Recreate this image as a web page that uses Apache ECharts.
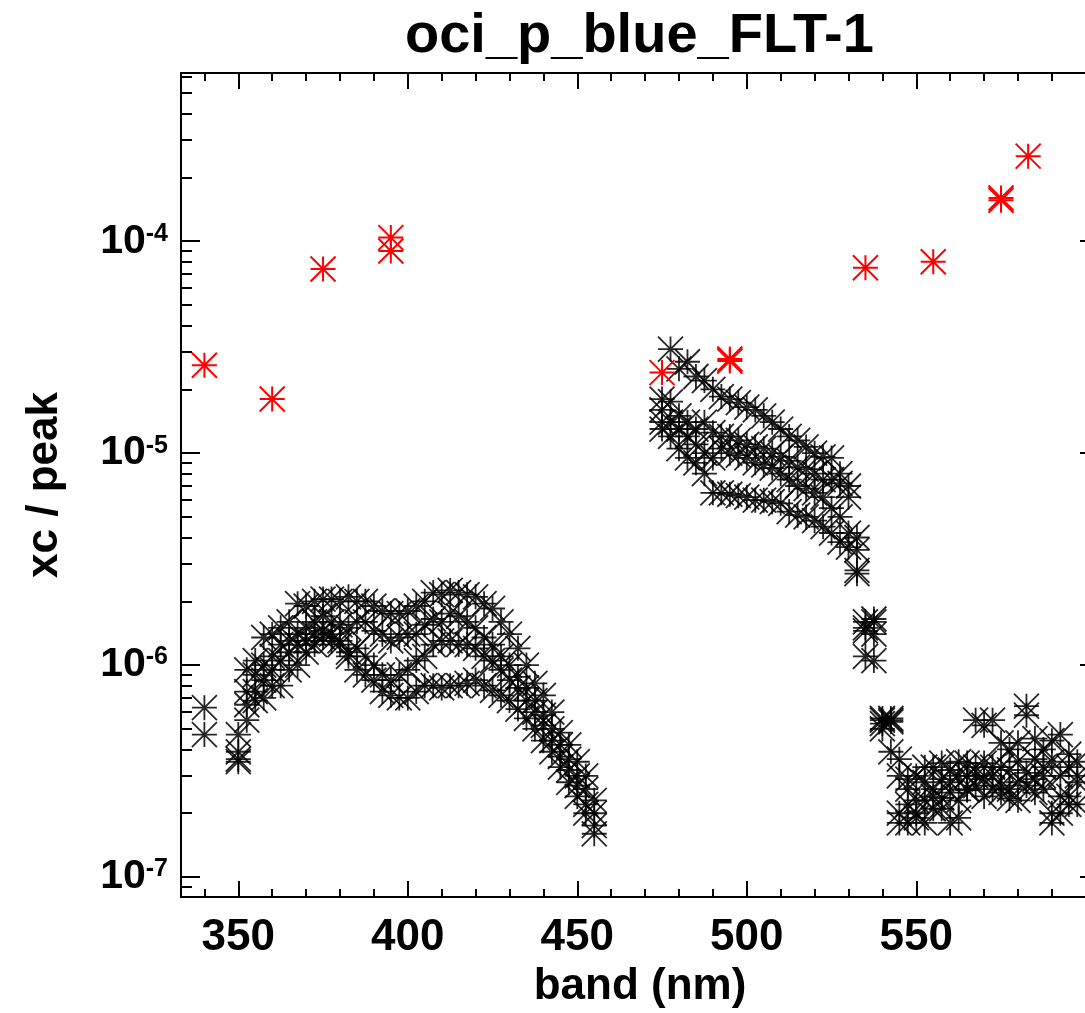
<!DOCTYPE html>
<html>
<head>
<meta charset="utf-8">
<title>oci_p_blue_FLT-1</title>
<script src="https://cdn.jsdelivr.net/npm/echarts@6/dist/echarts.min.js"></script>
<style>
  html, body { margin: 0; padding: 0; background: #fff; }
  #chart { width: 1085px; height: 1013px; }
</style>
</head>
<body>
<div id="chart"></div>
<script>
// band grid of the first group (340 nm, then 350..455 every 2.5 nm)
var bandsA = [340, 350, 352.5, 355, 357.5, 360, 362.5, 365, 367.5, 370, 372.5, 375, 377.5, 380, 382.5,
  385, 387.5, 390, 392.5, 395, 397.5, 400, 402.5, 405, 407.5, 410, 412.5, 415, 417.5, 420, 422.5,
  425, 427.5, 430, 432.5, 435, 437.5, 440, 442.5, 445, 447.5, 450, 452.5, 455];
var xcA1 = [6.3e-7, 4.7e-7, 9.5e-7, 1.05e-6, 1.35e-6, 1.4e-6, 1.5e-6, 1.6e-6, 1.95e-6, 1.9e-6, 2.0e-6,
  2.05e-6, 2.05e-6, 2.0e-6, 2.1e-6, 2.0e-6, 2.0e-6, 1.9e-6, 1.8e-6, 1.75e-6, 1.75e-6, 1.8e-6, 1.9e-6,
  2.0e-6, 2.2e-6, 2.15e-6, 2.25e-6, 2.2e-6, 2.15e-6, 2.1e-6, 1.95e-6, 1.85e-6, 1.6e-6, 1.4e-6, 1.2e-6,
  1.0e-6, 8.2e-7, 7.2e-7, 6.0e-7, 4.8e-7, 4.2e-7, 3.5e-7, 3.0e-7, 2.3e-7];
var xcA2 = [4.7e-7, 3.9e-7, 7.5e-7, 9e-7, 1.0e-6, 1.1e-6, 1.25e-6, 1.3e-6, 1.4e-6, 1.5e-6, 1.6e-6,
  1.7e-6, 1.6e-6, 1.55e-6, 1.5e-6, 1.6e-6, 1.6e-6, 1.45e-6, 1.4e-6, 1.3e-6, 1.35e-6, 1.4e-6, 1.4e-6,
  1.55e-6, 1.65e-6, 1.6e-6, 1.75e-6, 1.7e-6, 1.6e-6, 1.5e-6, 1.35e-6, 1.25e-6, 1.1e-6, 1.0e-6, 8.8e-7,
  7.8e-7, 6.8e-7, 5.8e-7, 5.0e-7, 4.2e-7, 3.6e-7, 3.0e-7, 2.6e-7, 2.0e-7];
var xcA3 = [null, 3.6e-7, 6.5e-7, 7.5e-7, 8.5e-7, 9.5e-7, 1.05e-6, 1.15e-6, 1.25e-6, 1.3e-6, 1.4e-6,
  1.45e-6, 1.4e-6, 1.3e-6, 1.15e-6, 1.2e-6, 1.1e-6, 1.0e-6, 9e-7, 8.5e-7, 9e-7, 9.5e-7, 1.05e-6,
  1.1e-6, 1.25e-6, 1.3e-6, 1.3e-6, 1.25e-6, 1.25e-6, 1.2e-6, 1.1e-6, 1.05e-6, 9.5e-7, 8.5e-7, 7.8e-7,
  6.8e-7, 6e-7, 5.2e-7, 4.4e-7, 3.7e-7, 3.2e-7, 2.7e-7, 2.2e-7, 1.75e-7];
var xcA4 = [null, 3.5e-7, 5.5e-7, 6.8e-7, 7e-7, 8e-7, 8e-7, 9.5e-7, 1.0e-6, 1.15e-6, 1.25e-6,
  1.35e-6, 1.3e-6, 1.25e-6, 1.1e-6, 9.5e-7, 9e-7, 8.5e-7, 7.5e-7, 7.2e-7, 7e-7, 7e-7, 7.5e-7,
  8e-7, 8e-7, 7.8e-7, 8e-7, 8e-7, 8.2e-7, 8.5e-7, 8e-7, 7.6e-7, 7.2e-7, 6.8e-7, 6.2e-7,
  5.6e-7, 5e-7, 4.4e-7, 3.9e-7, 3.3e-7, 2.8e-7, 2.4e-7, 2.0e-7, 1.6e-7];

// second group, 475..597.5 every 2.5 nm
var bandsB = [475, 477.5, 480, 482.5, 485, 487.5, 490, 492.5, 495, 497.5, 500, 502.5, 505, 507.5,
  510, 512.5, 515, 517.5, 520, 522.5, 525, 527.5, 530, 532.5, 535, 537.5, 540, 542.5, 545, 547.5,
  550, 552.5, 555, 557.5, 560, 562.5, 565, 567.5, 570, 572.5, 575, 577.5, 580, 582.5, 585, 587.5,
  590, 592.5, 595, 597.5];
var xcB1 = [1.8e-5, 3.1e-5, 2.5e-5, 2.7e-5, 2.3e-5, 2.2e-5, 2.0e-5, 1.85e-5, 1.8e-5, 1.73e-5,
  1.65e-5, 1.6e-5, 1.5e-5, 1.4e-5, 1.3e-5, 1.2e-5, 1.15e-5, 1.07e-5, 1.0e-5, 9.6e-6,
  9.5e-6, 8e-6, 7e-6, 4.0e-6, 1.6e-6, 1.65e-6, 5.6e-7, 5.5e-7, 3.6e-7, 2.9e-7,
  3.0e-7, 3.3e-7, 3.3e-7, 3.45e-7, 3.2e-7, 3.5e-7, 3.45e-7, 5.5e-7, 5.2e-7, 5.5e-7,
  4.3e-7, 4.0e-7, 4.3e-7, 6.4e-7, 4.5e-7, 4.0e-7, 4.4e-7, 4.7e-7, 3.8e-7, 3.5e-7];
var xcB2 = [1.4e-5, 1.75e-5, 1.5e-5, 1.4e-5, 1.3e-5, 1.4e-5, 1.25e-5, 1.2e-5, 1.2e-5, 1.15e-5,
  1.1e-5, 1.07e-5, 1.05e-5, 1.0e-5, 9.6e-6, 9.2e-6, 8.6e-6, 8.4e-6, 8e-6, 7.5e-6,
  7.5e-6, 7.2e-6, 6.2e-6, 3.5e-6, 1.45e-6, 1.4e-6, 5.3e-7, 5.4e-7, 3.0e-7, 2.6e-7,
  2.3e-7, 2.8e-7, 2.6e-7, 2.9e-7, 2.8e-7, 3.0e-7, 3.0e-7, 3.3e-7, 3.45e-7, 3.3e-7,
  3.3e-7, 3.2e-7, 3.5e-7, 5.8e-7, 3.6e-7, 3.3e-7, 3.5e-7, 3.0e-7, 3.3e-7, 2.8e-7];
var xcB3 = [1.3e-5, 1.4e-5, 1.3e-5, 1.2e-5, 1.1e-5, 1.0e-5, 9.5e-6, 1.05e-5, 1.0e-5, 9.8e-6,
  9.5e-6, 9e-6, 8.8e-6, 8.5e-6, 8.0e-6, 7.5e-6, 7e-6, 6.8e-6, 6.5e-6, 6.2e-6,
  5.5e-6, 5.0e-6, 4.2e-6, 2.8e-6, 1.1e-6, 1.05e-6, 5.0e-7, 3.9e-7, 1.8e-7, 2.2e-7,
  2.0e-7, 2.3e-7, 2.4e-7, 2.1e-7, 2.5e-7, 2.3e-7, 2.6e-7, 2.7e-7, 2.9e-7, 2.6e-7,
  2.7e-7, 2.35e-7, 2.8e-7, 3.1e-7, 2.9e-7, 2.6e-7, 2.0e-7, 2.4e-7, 2.4e-7, 2.2e-7];
var xcB4 = [1.6e-5, 1.2e-5, 1.05e-5, 9.5e-6, 9e-6, 8e-6, 6.5e-6, 6.5e-6, 6.4e-6, 6.3e-6,
  6.2e-6, 6.0e-6, 6.0e-6, 5.9e-6, 5.8e-6, 5.3e-6, 5.1e-6, 5.0e-6, 4.8e-6, 4.5e-6,
  4.2e-6, 3.8e-6, 3.6e-6, 2.7e-6, 1.5e-6, 1.6e-6, 5.5e-7, 5.6e-7, 2.0e-7, 1.8e-7,
  1.9e-7, 1.8e-7, 2.1e-7, 2.36e-7, 1.8e-7, 1.9e-7, 2.57e-7, 3.0e-7, 2.4e-7, 3.0e-7,
  2.5e-7, 2.6e-7, 2.3e-7, 2.7e-7, 2.5e-7, 3.0e-7, 1.8e-7, 2.0e-7, 2.2e-7, 3.0e-7];

// red points
var redBands = [340, 360, 375, 395, 395, 475, 495, 495, 535, 555, 575, 575, 583];
var redXc = [2.6e-5, 1.8e-5, 7.4e-5, 1.04e-4, 9.0e-5, 2.4e-5, 2.72e-5, 2.78e-5, 7.5e-5, 8.0e-5,
  1.56e-4, 1.6e-4, 2.52e-4];

// ticks
var xTicks = [350, 400, 450, 500, 550, 600];
var yTicks = [1e-7, 1e-6, 1e-5, 1e-4];

var X_MIN = 333.1, X_MAX = 603.9;
var Y_MIN = 8.05e-8, Y_MAX = 6.22e-4;
var FONT = 'Liberation Sans';
var STAR = 'path://M0,0L2,2M2,0L0,2M1,0L1,2M0,1L2,1';

var xMinor = [];
for (var v = 340; v <= 600; v += 10) {
  if (v % 50 !== 0) xMinor.push(v);
}
var yMinor = [];
for (var e = -8; e <= -4; e++) {
  for (var k = 2; k <= 9; k++) {
    var m = k * Math.pow(10, e);
    if (m > Y_MIN && m < Y_MAX) yMinor.push(m);
  }
}

function pairs(xs, ys) {
  var out = [];
  xs.forEach(function (x, i) {
    if (ys[i] != null) out.push([x, ys[i]]);
  });
  return out;
}

function xAxisOf(position, ticks, len, withLabels, withLine) {
  return {
    type: 'value', position: position, min: X_MIN, max: X_MAX,
    axisLine: { show: withLine, onZero: false, lineStyle: { color: '#000', width: 2 } },
    axisTick: { show: true, inside: true, length: len, customValues: ticks,
      lineStyle: { color: '#000', width: 2 } },
    axisLabel: withLabels ? {
      show: true, customValues: xTicks.slice(0, 5), margin: 19,
      color: '#000', fontFamily: FONT, fontWeight: 'bold', fontSize: 44
    } : { show: false },
    splitLine: { show: false }
  };
}

function yAxisOf(position, ticks, len, withLabels, withLine) {
  return {
    type: 'log', logBase: 10, position: position, min: Y_MIN, max: Y_MAX,
    axisLine: { show: withLine, onZero: false, lineStyle: { color: '#000', width: 2 } },
    axisTick: { show: true, inside: true, length: len, customValues: ticks,
      lineStyle: { color: '#000', width: 2 } },
    axisLabel: withLabels ? {
      show: true, customValues: yTicks, margin: 13,
      formatter: function (val) {
        return '{b|10}{s|' + Math.round(Math.log10(val)) + '}';
      },
      rich: {
        b: { fontFamily: FONT, fontWeight: 'bold', fontSize: 41, color: '#000', lineHeight: 40 },
        s: { fontFamily: FONT, fontWeight: 'bold', fontSize: 25, color: '#000',
          verticalAlign: 'top', lineHeight: 22 }
      }
    } : { show: false },
    splitLine: { show: false }
  };
}

var xLabelAxis = xAxisOf('bottom', xTicks, 16, true, true);
xLabelAxis.name = 'band (nm)';
xLabelAxis.nameLocation = 'middle';
xLabelAxis.nameGap = 66;
xLabelAxis.nameTextStyle = { fontFamily: FONT, fontWeight: 'bold', fontSize: 44, color: '#000' };

var yLabelAxis = yAxisOf('left', yTicks, 19, true, true);
yLabelAxis.name = 'xc / peak';
yLabelAxis.nameLocation = 'middle';
yLabelAxis.nameGap = 114;
yLabelAxis.nameTextStyle = { fontFamily: FONT, fontWeight: 'bold', fontSize: 44, color: '#000' };

function stars(data, color, width, opacity) {
  return {
    type: 'scatter', xAxisIndex: 0, yAxisIndex: 0,
    symbol: STAR, symbolSize: 25, silent: true,
    itemStyle: { color: 'none', borderColor: color, borderWidth: width, opacity: opacity },
    data: data
  };
}

var chart = echarts.init(document.getElementById('chart'), null, { renderer: 'canvas' });
chart.setOption({
  backgroundColor: '#fff',
  animation: false,
  title: {
    text: 'oci_p_blue_FLT-1', left: 400, top: 4,
    textStyle: { fontFamily: FONT, fontWeight: 'bold', fontSize: 56, color: '#000' }
  },
  grid: { left: 181, top: 73, width: 918, height: 824, outerBoundsMode: 'none', containLabel: false },
  xAxis: [
    xLabelAxis,
    xAxisOf('bottom', xMinor, 8, false, false),
    xAxisOf('top', xTicks, 16, false, true),
    xAxisOf('top', xMinor, 8, false, false)
  ],
  yAxis: [
    yLabelAxis,
    yAxisOf('left', yMinor, 11, false, false),
    yAxisOf('right', yTicks, 19, false, true),
    yAxisOf('right', yMinor, 11, false, false)
  ],
  series: [
    stars(pairs(bandsA, xcA1), '#000', 1.8, 0.85),
    stars(pairs(bandsA, xcA2), '#000', 1.8, 0.85),
    stars(pairs(bandsA, xcA3), '#000', 1.8, 0.85),
    stars(pairs(bandsA, xcA4), '#000', 1.8, 0.85),
    stars(pairs(bandsB, xcB1), '#000', 1.8, 0.85),
    stars(pairs(bandsB, xcB2), '#000', 1.8, 0.85),
    stars(pairs(bandsB, xcB3), '#000', 1.8, 0.85),
    stars(pairs(bandsB, xcB4), '#000', 1.8, 0.85),
    stars(pairs(redBands, redXc), '#ff0000', 2, 1)
  ]
});
</script>
</body>
</html>
